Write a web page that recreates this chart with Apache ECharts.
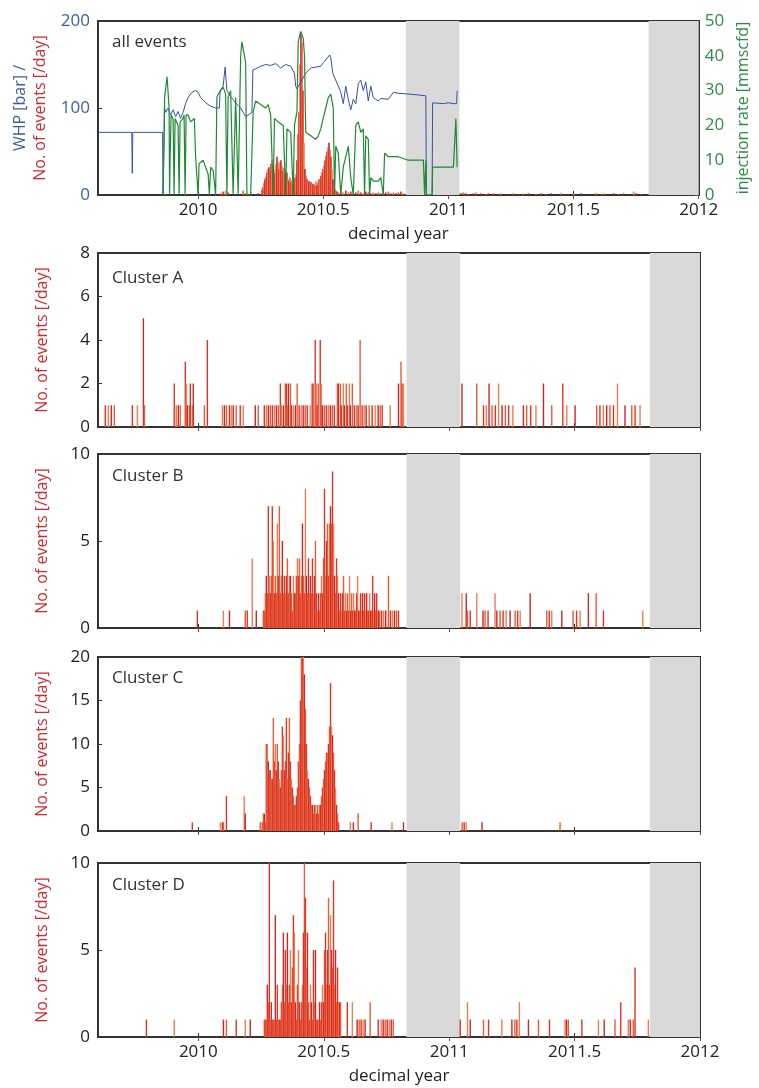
<!DOCTYPE html>
<html>
<head>
<meta charset="utf-8">
<script src="https://cdn.jsdelivr.net/npm/echarts@6/dist/echarts.min.js"></script>
<style>
  html, body { margin: 0; padding: 0; background: #fff; }
  #main { width: 759px; height: 1088px; }
</style>
</head>
<body>
<div id="main"></div>
<script>
// x ticks (decimal year) and grey data gaps
var xTicks = [2010, 2010.5, 2011, 2011.5, 2012];
var grayBands = [[2010.83, 2011.044], [2011.80, 2012]];

// top panel: well head pressure [bar]
var whp = [[2009.605,72],[2009.735,72],[2009.737,25],[2009.739,72],[2009.858,72],[2009.860,0],[2009.864,60],[2009.866,100],
  [2009.87,95],[2009.88,100],[2009.89,92],[2009.90,98],[2009.91,90],[2009.92,96],[2009.93,88],[2009.94,95],[2009.95,105],
  [2009.96,112],[2009.975,118],[2009.99,120],[2010.0,118],[2010.01,112],[2010.03,106],[2010.05,102],[2010.07,100],
  [2010.085,100],[2010.088,120],[2010.10,125],[2010.108,147],[2010.115,120],[2010.13,113],[2010.15,106],[2010.16,103],
  [2010.17,100],[2010.19,90],[2010.215,95],[2010.219,144],[2010.23,145],[2010.25,148],[2010.27,150],[2010.29,149],
  [2010.31,151],[2010.33,146],[2010.35,150],[2010.37,148],[2010.385,140],[2010.39,125],[2010.395,122],[2010.43,140],
  [2010.45,146],[2010.47,147],[2010.49,148],[2010.50,152],[2010.526,161],[2010.53,158],[2010.538,140],[2010.566,121],
  [2010.57,118],[2010.58,105],[2010.59,125],[2010.60,110],[2010.61,98],[2010.62,110],[2010.63,105],[2010.64,128],
  [2010.65,132],[2010.66,120],[2010.67,130],[2010.68,108],[2010.69,125],[2010.70,112],[2010.71,110],[2010.72,108],
  [2010.73,111],[2010.76,110],[2010.78,118],[2010.80,117],[2010.84,116],[2010.88,115],[2010.91,114],[2010.912,0],
  [2010.935,0],[2010.937,106],[2010.98,105],[2011.0,106],[2011.02,105],[2011.033,105],[2011.035,120]];

// top panel: injection rate [mmscfd]
var injection = [[2009.860,0],[2009.866,28],[2009.876,34],[2009.884,25],[2009.886,0],[2009.888,10],[2009.892,23],[2009.90,22],
  [2009.904,0],[2009.908,22],[2009.92,20],[2009.924,0],[2009.928,21],[2009.94,22],[2009.944,23],[2009.948,0],[2009.952,23],
  [2009.96,23],[2009.97,21],[2009.985,22],[2009.99,11],[2010.0,0],[2010.004,9],[2010.02,10],[2010.04,6],[2010.045,0],
  [2010.05,8],[2010.06,7],[2010.07,0],[2010.075,28],[2010.08,29],[2010.09,30],[2010.10,31],[2010.11,29],[2010.115,0],
  [2010.12,28],[2010.13,30],[2010.14,0],[2010.15,28],[2010.16,0],[2010.17,40],[2010.175,44],[2010.18,42],[2010.19,38],
  [2010.195,0],[2010.21,0],[2010.22,24],[2010.23,27],[2010.25,26],[2010.27,25],[2010.28,26],[2010.29,23],[2010.30,0],
  [2010.305,22],[2010.32,21],[2010.34,20],[2010.35,0],[2010.355,19],[2010.37,18],[2010.38,0],[2010.385,20],[2010.395,24],
  [2010.40,44],[2010.41,47],[2010.42,45],[2010.425,40],[2010.43,18],[2010.45,17],[2010.47,16],[2010.48,17],[2010.49,19],
  [2010.50,22],[2010.51,25],[2010.52,28],[2010.53,29],[2010.54,25],[2010.545,0],[2010.55,14],[2010.56,12],[2010.57,0],
  [2010.58,8],[2010.60,14],[2010.61,5],[2010.62,0],[2010.63,20],[2010.64,21],[2010.65,18],[2010.66,19],[2010.665,0],
  [2010.67,17],[2010.68,16],[2010.685,0],[2010.69,5],[2010.70,4],[2010.72,4],[2010.73,5],[2010.74,0],[2010.745,12],
  [2010.76,11],[2010.80,11],[2010.84,10],[2010.88,10],[2010.90,10],[2010.905,0],[2010.91,10],[2010.912,0],[2010.935,0],
  [2010.937,8],[2010.96,8],[2010.98,8],[2011.0,8],[2011.02,8],[2011.03,22],[2011.035,8]];

// top panel: all events per day
var allEvents = [[2009.87,1],[2009.95,1],[2010.0,1],[2010.09,2],[2010.10,4],[2010.11,5],[2010.12,3],[2010.18,5],[2010.19,2],
  [2010.21,3],[2010.24,2],[2010.255,6],[2010.259,9],[2010.263,14],[2010.267,18],[2010.271,21],[2010.275,26],[2010.279,30],
  [2010.283,32],[2010.287,28],[2010.291,36],[2010.295,40],[2010.299,33],[2010.303,29],[2010.307,25],[2010.311,35],
  [2010.315,44],[2010.319,38],[2010.323,30],[2010.327,37],[2010.331,40],[2010.335,33],[2010.339,28],[2010.343,31],
  [2010.347,24],[2010.351,20],[2010.355,26],[2010.359,18],[2010.363,16],[2010.367,20],[2010.371,14],[2010.375,17],
  [2010.379,12],[2010.383,15],[2010.387,20],[2010.391,24],[2010.395,40],[2010.399,70],[2010.403,95],[2010.407,150],
  [2010.411,185],[2010.415,175],[2010.419,120],[2010.423,60],[2010.427,30],[2010.431,22],[2010.435,18],[2010.439,14],
  [2010.443,16],[2010.447,12],[2010.451,15],[2010.455,10],[2010.459,13],[2010.463,9],[2010.467,12],[2010.471,16],
  [2010.475,11],[2010.479,14],[2010.483,18],[2010.487,16],[2010.491,22],[2010.495,26],[2010.499,30],[2010.503,34],
  [2010.507,40],[2010.511,45],[2010.515,50],[2010.519,55],[2010.523,60],[2010.527,52],[2010.531,44],[2010.535,30],
  [2010.539,18],[2010.543,10],[2010.547,6],[2010.551,5],[2010.555,4],[2010.56,3],[2010.57,4],[2010.58,3],[2010.59,5],
  [2010.60,3],[2010.61,4],[2010.62,2],[2010.63,3],[2010.64,5],[2010.65,3],[2010.66,2],[2010.67,4],[2010.68,3],[2010.69,2],
  [2010.70,3],[2010.71,2],[2010.72,3],[2010.73,2],[2010.74,2],[2010.75,3],[2010.76,4],[2010.77,2],[2010.78,3],[2010.79,2],
  [2010.80,3],[2010.81,4],[2010.82,2],[2011.05,2],[2011.06,3],[2011.07,2],[2011.08,1],[2011.10,2],[2011.11,3],[2011.13,2],
  [2011.15,1],[2011.16,2],[2011.18,2],[2011.20,1],[2011.21,2],[2011.24,1],[2011.26,2],[2011.28,1],[2011.30,2],[2011.32,2],
  [2011.35,1],[2011.37,2],[2011.39,1],[2011.41,2],[2011.45,2],[2011.47,1],[2011.50,1],[2011.53,2],[2011.59,2],[2011.61,1],
  [2011.62,2],[2011.66,2],[2011.68,1],[2011.70,2],[2011.74,4],[2011.75,2],[2011.77,1]];

var clusterA = [[2009.629,1],[2009.641,1],[2009.653,1],[2009.665,1],[2009.737,1],[2009.757,1],[2009.781,5],[2009.785,1],
  [2009.904,2],[2009.912,1],[2009.920,1],[2009.928,1],[2009.948,3],[2009.952,2],[2009.956,1],[2009.964,1],[2009.968,2],
  [2009.976,1],[2009.980,2],[2010.024,1],[2010.036,4],[2010.096,1],[2010.104,1],[2010.112,1],[2010.124,1],[2010.131,1],
  [2010.139,1],[2010.151,1],[2010.167,1],[2010.179,1],[2010.227,1],[2010.239,1],[2010.263,1],[2010.271,1],[2010.279,1],
  [2010.287,1],[2010.295,1],[2010.303,1],[2010.311,1],[2010.319,1],[2010.327,2],[2010.331,1],[2010.339,1],[2010.347,2],
  [2010.351,2],[2010.355,1],[2010.359,2],[2010.367,2],[2010.371,1],[2010.379,1],[2010.387,1],[2010.394,2],[2010.402,1],
  [2010.410,1],[2010.418,1],[2010.426,1],[2010.434,1],[2010.446,1],[2010.454,2],[2010.458,2],[2010.466,4],[2010.470,2],
  [2010.474,1],[2010.478,2],[2010.486,4],[2010.490,2],[2010.494,1],[2010.502,1],[2010.510,1],[2010.518,1],[2010.526,1],
  [2010.534,1],[2010.542,1],[2010.554,2],[2010.558,2],[2010.566,2],[2010.570,1],[2010.578,2],[2010.582,1],[2010.590,2],
  [2010.594,1],[2010.602,2],[2010.606,1],[2010.614,2],[2010.622,1],[2010.630,1],[2010.637,1],[2010.645,4],[2010.653,1],
  [2010.661,1],[2010.669,1],[2010.681,1],[2010.693,1],[2010.705,1],[2010.717,1],[2010.725,1],[2010.733,1],[2010.765,1],
  [2010.798,2],[2010.808,3],[2010.812,2],[2010.818,2],
  [2011.051,2],[2011.110,2],[2011.137,1],[2011.148,1],[2011.159,2],[2011.171,1],[2011.184,1],[2011.197,2],[2011.211,1],
  [2011.224,1],[2011.237,1],[2011.254,1],[2011.296,1],[2011.309,1],[2011.325,1],[2011.346,1],[2011.376,2],[2011.409,1],
  [2011.453,2],[2011.469,1],[2011.502,1],[2011.588,1],[2011.601,1],[2011.615,1],[2011.628,1],[2011.641,1],[2011.655,1],
  [2011.671,2],[2011.701,1],[2011.728,1],[2011.741,1],[2011.761,1]];

var clusterB = [[2009.996,1],[2010.100,1],[2010.124,1],[2010.187,1],[2010.195,1],[2010.215,4],[2010.231,1],
  [2010.259,1],[2010.263,1],[2010.267,2],[2010.271,3],[2010.275,2],[2010.279,7],[2010.283,3],[2010.287,2],[2010.291,3],
  [2010.295,7],[2010.299,5],[2010.303,2],[2010.307,3],[2010.311,2],[2010.315,6],[2010.319,3],[2010.323,7],[2010.327,2],
  [2010.331,3],[2010.335,5],[2010.339,2],[2010.343,3],[2010.347,2],[2010.351,3],[2010.355,4],[2010.359,2],[2010.363,3],
  [2010.367,3],[2010.371,2],[2010.375,1],[2010.379,3],[2010.383,2],[2010.387,2],[2010.391,3],[2010.395,4],[2010.399,3],
  [2010.403,4],[2010.407,2],[2010.411,3],[2010.415,6],[2010.419,3],[2010.423,2],[2010.427,8],[2010.431,3],[2010.435,2],
  [2010.439,4],[2010.443,2],[2010.447,3],[2010.451,2],[2010.455,4],[2010.459,2],[2010.463,3],[2010.467,5],[2010.471,2],
  [2010.475,1],[2010.479,2],[2010.483,1],[2010.487,2],[2010.491,3],[2010.495,2],[2010.499,4],[2010.503,8],[2010.507,3],
  [2010.511,5],[2010.515,6],[2010.519,3],[2010.523,6],[2010.527,7],[2010.531,6],[2010.535,9],[2010.539,6],[2010.543,3],
  [2010.547,2],[2010.551,4],[2010.555,3],[2010.559,2],[2010.563,1],[2010.567,2],[2010.571,1],[2010.575,2],[2010.579,3],
  [2010.583,1],[2010.587,2],[2010.591,1],[2010.595,2],[2010.599,1],[2010.603,3],[2010.607,1],[2010.611,2],[2010.615,1],
  [2010.619,2],[2010.623,1],[2010.627,1],[2010.631,2],[2010.635,3],[2010.639,1],[2010.643,1],[2010.647,2],[2010.651,1],
  [2010.655,2],[2010.659,1],[2010.663,2],[2010.667,1],[2010.671,2],[2010.675,1],[2010.679,1],[2010.683,2],[2010.687,1],
  [2010.691,1],[2010.695,3],[2010.699,1],[2010.703,2],[2010.707,1],[2010.711,2],[2010.715,1],[2010.719,1],[2010.723,1],
  [2010.731,1],[2010.739,1],[2010.747,1],[2010.758,3],[2010.766,1],[2010.774,1],[2010.782,1],[2010.790,1],[2010.798,1],
  [2011.051,2],[2011.068,2],[2011.073,1],[2011.084,1],[2011.110,2],[2011.135,1],[2011.143,1],[2011.155,1],[2011.183,2],
  [2011.190,1],[2011.203,1],[2011.215,1],[2011.227,1],[2011.243,1],[2011.263,1],[2011.273,1],[2011.283,1],[2011.323,2],
  [2011.389,1],[2011.399,1],[2011.409,1],[2011.449,1],[2011.494,1],[2011.508,1],[2011.522,1],[2011.555,2],[2011.586,2],
  [2011.615,1],[2011.772,1]];

var clusterC = [[2009.976,1],[2010.088,1],[2010.096,1],[2010.100,1],[2010.112,4],[2010.183,4],[2010.187,2],[2010.247,1],
  [2010.255,1],[2010.259,2],[2010.263,2],[2010.267,1],[2010.271,10],[2010.275,10],[2010.279,8],[2010.283,7],[2010.287,7],
  [2010.291,6],[2010.295,6],[2010.299,13],[2010.303,8],[2010.307,10],[2010.311,7],[2010.315,10],[2010.319,8],[2010.323,6],
  [2010.327,5],[2010.331,7],[2010.335,12],[2010.339,11],[2010.343,7],[2010.347,8],[2010.351,13],[2010.355,6],[2010.359,9],
  [2010.363,13],[2010.367,8],[2010.371,6],[2010.375,5],[2010.379,4],[2010.383,3],[2010.387,3],[2010.391,4],[2010.395,5],
  [2010.399,8],[2010.403,10],[2010.407,15],[2010.411,20],[2010.415,20],[2010.419,20],[2010.423,18],[2010.427,14],
  [2010.431,10],[2010.435,7],[2010.439,6],[2010.443,5],[2010.447,4],[2010.451,3],[2010.455,3],[2010.459,2],[2010.463,3],
  [2010.467,3],[2010.471,2],[2010.475,3],[2010.479,2],[2010.483,3],[2010.487,3],[2010.491,4],[2010.495,5],[2010.499,6],
  [2010.503,7],[2010.507,8],[2010.511,9],[2010.515,9],[2010.519,10],[2010.523,12],[2010.527,17],[2010.531,12],
  [2010.535,11],[2010.539,9],[2010.543,7],[2010.547,5],[2010.551,3],[2010.555,2],[2010.559,1],
  [2010.606,1],[2010.618,1],[2010.637,2],[2010.689,1],[2010.772,1],[2010.818,1],
  [2011.052,1],[2011.060,1],[2011.068,1],[2011.131,1],[2011.442,1]];

var clusterD = [[2009.793,1],[2009.904,1],[2010.100,1],[2010.112,1],[2010.151,1],[2010.187,1],[2010.207,1],
  [2010.263,1],[2010.267,1],[2010.271,1],[2010.275,3],[2010.279,2],[2010.283,10],[2010.287,1],[2010.291,2],[2010.295,1],
  [2010.299,1],[2010.303,1],[2010.307,7],[2010.311,1],[2010.315,3],[2010.319,1],[2010.323,1],[2010.327,1],[2010.331,2],
  [2010.335,3],[2010.339,6],[2010.343,2],[2010.347,5],[2010.351,3],[2010.355,6],[2010.359,2],[2010.363,3],[2010.367,5],
  [2010.371,2],[2010.375,4],[2010.379,7],[2010.383,6],[2010.387,2],[2010.391,1],[2010.395,3],[2010.399,5],[2010.403,2],
  [2010.407,1],[2010.411,2],[2010.415,3],[2010.419,6],[2010.423,10],[2010.427,8],[2010.431,4],[2010.435,6],[2010.439,2],
  [2010.443,1],[2010.447,3],[2010.451,2],[2010.455,1],[2010.459,5],[2010.463,2],[2010.467,5],[2010.471,1],[2010.475,1],
  [2010.479,1],[2010.483,2],[2010.487,1],[2010.491,2],[2010.495,3],[2010.499,2],[2010.503,5],[2010.507,6],[2010.511,3],
  [2010.515,5],[2010.519,8],[2010.523,3],[2010.527,7],[2010.531,5],[2010.535,4],[2010.539,9],[2010.543,3],[2010.547,5],
  [2010.551,2],[2010.555,4],[2010.559,2],[2010.563,2],[2010.567,2],[2010.594,2],[2010.614,2],[2010.633,1],[2010.641,1],
  [2010.649,1],[2010.657,1],[2010.665,1],[2010.685,2],[2010.717,1],[2010.729,1],[2010.737,1],[2010.745,1],[2010.753,1],
  [2010.761,1],[2010.769,1],[2010.777,1],
  [2011.044,1],[2011.073,2],[2011.084,1],[2011.137,1],[2011.157,1],[2011.210,1],[2011.250,1],[2011.262,1],[2011.270,1],
  [2011.280,2],[2011.316,1],[2011.356,1],[2011.400,1],[2011.462,1],[2011.468,1],[2011.475,1],[2011.529,1],[2011.595,1],
  [2011.618,1],[2011.661,1],[2011.684,2],[2011.714,1],[2011.722,1],[2011.734,1],[2011.741,4],[2011.794,1]];

var clusterNames = ['Cluster A', 'Cluster B', 'Cluster C', 'Cluster D'];
var clusterData = [clusterA, clusterB, clusterC, clusterD];
var clusterMax = [8, 10, 20, 10];
var clusterStep = [2, 5, 5, 5];

var FONT = 'Open Sans';
var gridTops = [21, 253, 454, 657, 863];
var gridH = 174;
var barPalette = ['#e2331f', '#f07c52', '#c8282b', '#ea5a35'];

var grids = [], xAxes = [], yAxes = [], series = [], graphics = [];

gridTops.forEach(function (top, gi) {
  grids.push({ left: 98, width: 602, top: top, height: gridH, show: true,
    borderColor: '#333', borderWidth: 2, backgroundColor: 'transparent' });
  var showLab = (gi === 0 || gi === 4);
  xAxes.push({
    gridIndex: gi, type: 'value', min: 2009.6, max: 2012, position: 'bottom',
    axisLine: { show: true, onZero: false, lineStyle: { color: '#333', width: 2 } },
    axisTick: { show: true, inside: true, length: 4, customValues: xTicks, lineStyle: { color: '#333' } },
    axisLabel: { show: showLab, customValues: xTicks, formatter: function (v) { return String(v); },
      fontFamily: FONT, fontSize: 17, color: '#222', margin: 7 },
    splitLine: { show: false },
    name: showLab ? 'decimal year' : '', nameLocation: 'middle', nameGap: 31,
    nameTextStyle: { fontFamily: FONT, fontSize: 17, color: '#222' }
  });
  xAxes.push({
    gridIndex: gi, type: 'value', min: 2009.6, max: 2012, position: 'top',
    axisLine: { show: false },
    axisTick: { show: true, inside: true, length: 4, customValues: xTicks, lineStyle: { color: '#555' } },
    axisLabel: { show: false }, splitLine: { show: false }
  });
  // grey gap bands
  series.push({
    type: 'line', xAxisIndex: gi * 2, yAxisIndex: gi === 0 ? 0 : gi + 1, data: [[2009.6, 0]],
    symbol: 'none', lineStyle: { opacity: 0 }, silent: true, z: 0,
    markArea: { silent: true, itemStyle: { color: '#d9d9d9' },
      data: grayBands.map(function (b) { return [{ xAxis: b[0] }, { xAxis: b[1] }]; }) }
  });
});

var evName = 'No. of events [/day]';
// top panel axes
yAxes.push({
  gridIndex: 0, type: 'value', min: 0, max: 200, interval: 100, position: 'left',
  axisLine: { show: true, lineStyle: { color: '#333', width: 2 } },
  axisTick: { show: true, inside: true, length: 4, lineStyle: { color: '#333' } },
  axisLabel: { fontFamily: FONT, fontSize: 17, color: '#3f5d9e', margin: 8 },
  splitLine: { show: false },
  name: '{b|WHP [bar] /}\n{r|' + evName + '}', nameLocation: 'middle', nameRotate: 90, nameGap: 44,
  nameTextStyle: { fontFamily: FONT, fontSize: 16, lineHeight: 20,
    rich: { b: { color: '#3f5d9e', fontFamily: FONT, fontSize: 16, lineHeight: 20 },
            r: { color: '#d7262d', fontFamily: FONT, fontSize: 16, lineHeight: 20 } } }
});
yAxes.push({
  gridIndex: 0, type: 'value', min: 0, max: 50, interval: 10, position: 'right',
  axisLine: { show: true, lineStyle: { color: '#333', width: 2 } },
  axisTick: { show: true, inside: true, length: 4, lineStyle: { color: '#555' } },
  minorTick: { show: true, splitNumber: 2, length: 3, lineStyle: { color: '#777' } },
  axisLabel: { fontFamily: FONT, fontSize: 17, color: '#2e8b45', margin: 6 },
  splitLine: { show: false },
  name: 'injection rate [mmscfd]', nameLocation: 'middle', nameRotate: 90, nameGap: 36,
  nameTextStyle: { fontFamily: FONT, fontSize: 16, color: '#2e8b45' }
});
clusterData.forEach(function (d, ci) {
  yAxes.push({
    gridIndex: ci + 1, type: 'value', min: 0, max: clusterMax[ci], interval: clusterStep[ci], position: 'left',
    axisLine: { show: true, lineStyle: { color: '#333', width: 2 } },
    axisTick: { show: true, inside: true, length: 4, lineStyle: { color: '#333' } },
    axisLabel: { fontFamily: FONT, fontSize: 17, color: '#222', margin: 8 },
    splitLine: { show: false },
    name: evName, nameLocation: 'middle', nameRotate: 90, nameGap: 48,
    nameTextStyle: { fontFamily: FONT, fontSize: 16, color: '#d7262d' }
  });
});

function barColor(p) { return barPalette[p.dataIndex % barPalette.length]; }

series.push({ type: 'bar', xAxisIndex: 0, yAxisIndex: 0, data: allEvents, barWidth: 1.6,
  itemStyle: { color: barColor }, z: 2, animation: false });
series.push({ type: 'line', xAxisIndex: 0, yAxisIndex: 0, data: whp, symbol: 'none',
  lineStyle: { color: '#3b4fa3', width: 1 }, z: 3, animation: false });
series.push({ type: 'line', xAxisIndex: 0, yAxisIndex: 1, data: injection, symbol: 'none',
  lineStyle: { color: '#1f8a35', width: 1.2 }, z: 4, animation: false });

clusterData.forEach(function (d, ci) {
  series.push({ type: 'bar', xAxisIndex: (ci + 1) * 2, yAxisIndex: ci + 2, data: d, barWidth: 1.4,
    itemStyle: { color: barColor }, z: 2, animation: false });
});

var labelY = [44, 280, 478, 680, 887];
['all events'].concat(clusterNames).forEach(function (t, i) {
  graphics.push({ type: 'text', left: 112, top: labelY[i] - 10,
    style: { text: t, fontFamily: FONT, fontSize: 17, fill: '#333' } });
});

var chart = echarts.init(document.getElementById('main'), null, { renderer: 'canvas' });
chart.setOption({
  animation: false,
  backgroundColor: '#fff',
  grid: grids,
  xAxis: xAxes,
  yAxis: yAxes,
  series: series,
  graphic: graphics
});
</script>
</body>
</html>
